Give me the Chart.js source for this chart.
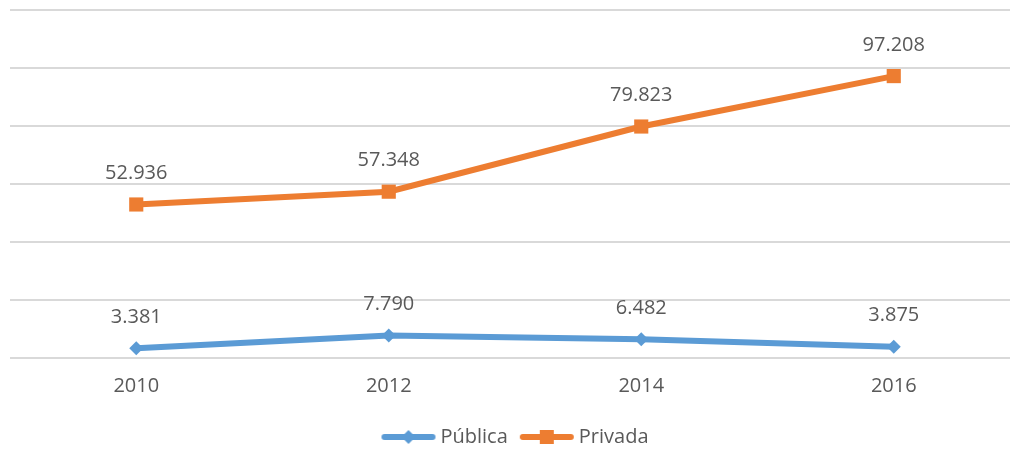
<!DOCTYPE html>
<html>
<head>
<meta charset="utf-8">
<script src="https://cdn.jsdelivr.net/npm/chart.js@4/dist/chart.umd.min.js"></script>
<style>
  html, body { margin: 0; padding: 0; background: #fff; overflow: hidden; }
  #wrap { position: relative; width: 1030px; height: 468px; }
</style>
</head>
<body>
<div id="wrap"><canvas id="chart"></canvas></div>
<script>
const years = ["2010", "2012", "2014", "2016"];
const publica = [3381, 7790, 6482, 3875];
const privada = [52936, 57348, 79823, 97208];
const yTicks = [0, 20000, 40000, 60000, 80000, 100000, 120000];

const BLUE = "#5B9BD5";
const ORANGE = "#ED7D31";
const TEXT = "#595959";
const FONT = "'Open Sans', sans-serif";

function legendIcon(color, shape) {
    const c = document.createElement("canvas");
    c.width = 56; c.height = 16;
    const g = c.getContext("2d");
    g.strokeStyle = color;
    g.lineWidth = 6;
    g.lineCap = "round";
    g.beginPath(); g.moveTo(4, 8); g.lineTo(52, 8); g.stroke();
    g.fillStyle = color;
    if (shape === "diamond") {
        g.beginPath(); g.moveTo(28, 1); g.lineTo(35, 8); g.lineTo(28, 15); g.lineTo(21, 8); g.closePath(); g.fill();
    } else {
        g.fillRect(21, 1, 14, 14);
    }
    return c;
}

const valueLabels = {
    id: "valueLabels",
    afterDatasetsDraw(chart) {
        const ctx = chart.ctx;
        ctx.save();
        ctx.font = "20px " + FONT;
        ctx.fillStyle = TEXT;
        ctx.textAlign = "center";
        ctx.textBaseline = "middle";
        chart.data.datasets.forEach(function (ds, i) {
            chart.getDatasetMeta(i).data.forEach(function (pt, j) {
                const txt = ds.data[j].toLocaleString("de-DE");
                ctx.fillText(txt, pt.x, pt.y - 31);
            });
        });
        ctx.restore();
    }
};

new Chart(document.getElementById("chart"), {
    type: "line",
    data: {
        labels: years,
        datasets: [
            {
                label: "Pública",
                data: publica,
                borderColor: BLUE,
                backgroundColor: BLUE,
                borderWidth: 6,
                pointStyle: "rectRot",
                pointRadius: 7,
                pointBorderWidth: 0,
                tension: 0,
                legendIcon: legendIcon(BLUE, "diamond")
            },
            {
                label: "Privada",
                data: privada,
                borderColor: ORANGE,
                backgroundColor: ORANGE,
                borderWidth: 6,
                pointStyle: "rect",
                pointRadius: 10,
                pointBorderWidth: 0,
                tension: 0,
                legendIcon: legendIcon(ORANGE, "square")
            }
        ]
    },
    options: {
        responsive: true,
        maintainAspectRatio: false,
        animation: false,
        layout: { padding: { top: 10, left: 9, right: 4, bottom: 11 } },
        plugins: {
            tooltip: { enabled: false },
            legend: {
                position: "bottom",
                labels: {
                    color: TEXT,
                    font: { family: FONT, size: 20 },
                    usePointStyle: true,
                    pointStyleWidth: 44,
                    padding: 17,
                    generateLabels(chart) {
                        return chart.data.datasets.map(function (ds, i) {
                            return {
                                text: ds.label,
                                pointStyle: ds.legendIcon,
                                fontColor: TEXT,
                                datasetIndex: i,
                                hidden: false
                            };
                        });
                    }
                }
            }
        },
        scales: {
            x: {
                offset: true,
                grid: { display: false },
                border: { display: false },
                ticks: { color: TEXT, font: { family: FONT, size: 20 }, padding: 8 },
                afterFit(axis) { axis.height += 4; }
            },
            y: {
                min: 0,
                max: 120000,
                afterBuildTicks(axis) { axis.ticks = yTicks.map(function (v) { return { value: v }; }); },
                grid: { color: "#d9d9d9", lineWidth: 2, drawTicks: false },
                border: { display: false },
                ticks: { display: false }
            }
        }
    },
    plugins: [valueLabels]
});
</script>
</body>
</html>
